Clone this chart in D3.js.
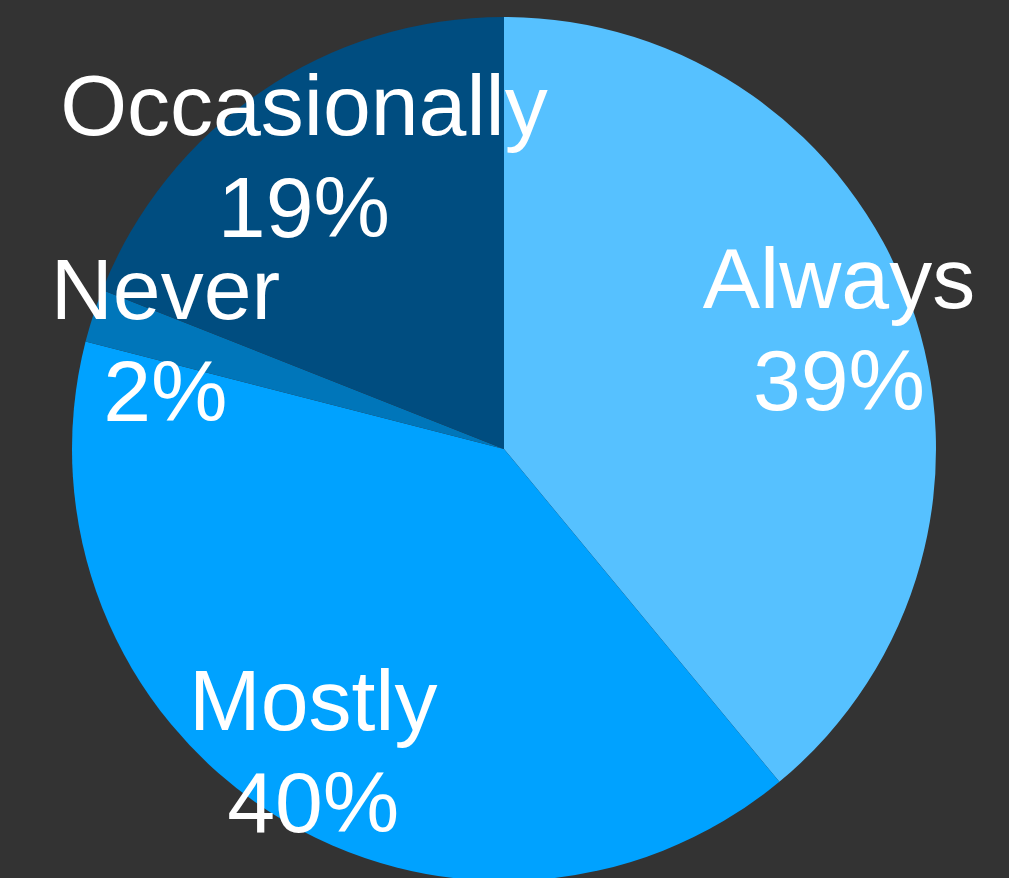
<!DOCTYPE html>
<html>
<head>
<meta charset="utf-8">
<script src="https://cdn.jsdelivr.net/npm/d3@7"></script>
<style>
  html, body { margin: 0; padding: 0; background: #333333; }
  svg { display: block; }
</style>
</head>
<body>
<svg id="pie"></svg>
<script>
const categories = ["Always", "Mostly", "Never", "Occasionally"];
const values = [39, 40, 2, 19];
const colors = ["#56C1FF", "#00A2FF", "#0076BA", "#004D80"];

const width = 1009;
const height = 878;
const cx = 504, cy = 449;
const radius = 432;
const labelRadius = 356;
const lineGap = 102;

const svg = d3.select("#pie")
    .attr("width", width)
    .attr("height", height);

svg.append("rect")
    .attr("width", width)
    .attr("height", height)
    .attr("fill", "#333333");

const g = svg.append("g")
    .attr("transform", "translate(" + cx + "," + cy + ")");

const data = categories.map((c, i) => ({ name: c, value: values[i], color: colors[i] }));

const pie = d3.pie()
    .sort(null)
    .value(d => d.value);

const arc = d3.arc()
    .innerRadius(0)
    .outerRadius(radius);

const labelArc = d3.arc()
    .innerRadius(labelRadius)
    .outerRadius(labelRadius);

const arcs = pie(data);

g.selectAll("path")
    .data(arcs)
    .enter().append("path")
    .attr("d", arc)
    .attr("fill", d => d.data.color);

const labels = g.selectAll("text")
    .data(arcs)
    .enter().append("text")
    .attr("transform", d => "translate(" + labelArc.centroid(d) + ")")
    .attr("text-anchor", "middle")
    .attr("fill", "#ffffff")
    .style("font-family", "'Liberation Sans', Arial, Helvetica, sans-serif")
    .style("font-size", "86px");

labels.append("tspan")
    .attr("x", 0)
    .attr("y", -20)
    .text(d => d.data.name);

labels.append("tspan")
    .attr("x", 0)
    .attr("y", -20 + lineGap)
    .text(d => d.data.value + "%");
</script>
</body>
</html>
